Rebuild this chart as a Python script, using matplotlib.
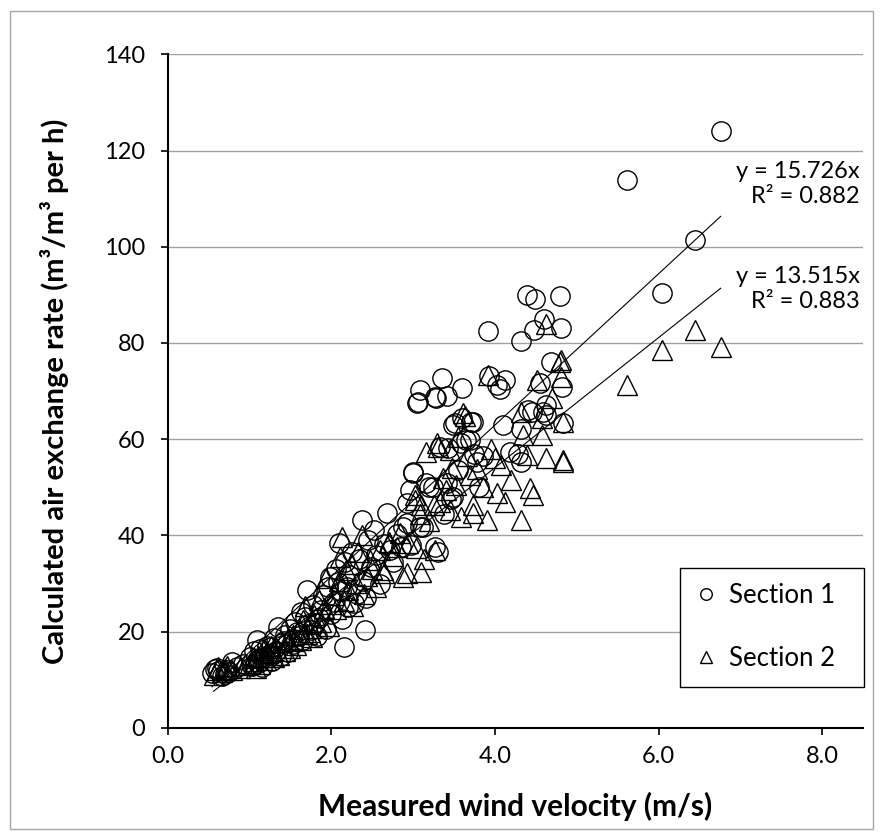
#!/usr/bin/env python3
import numpy as np
import matplotlib
matplotlib.use("Agg")
import matplotlib.pyplot as plt
from matplotlib.patches import Rectangle

###############################################################################
# Data
###############################################################################

# Section 1 (circles): measured wind velocity (m/s), air exchange rate
s1_wind = [
    0.54, 0.60, 0.66, 0.72, 0.78, 0.62, 0.70, 0.85, 0.92, 0.58, 0.75,
    1.00, 1.03, 1.06, 1.09, 1.10, 1.13, 1.15, 1.18, 1.21, 1.24, 1.27, 1.30,
    1.33, 1.35, 1.38, 1.40, 1.44, 1.47, 1.50, 1.12, 1.26, 1.42,
    1.53, 1.56, 1.60, 1.63, 1.66, 1.70, 1.72, 1.75, 1.78, 1.82, 1.85, 1.88,
    1.90, 1.93, 1.96, 1.98, 2.00, 1.58, 1.68, 1.80,
    2.03, 2.06, 2.10, 2.12, 2.13, 2.15, 2.17, 2.19, 2.22, 2.25, 2.28, 2.31,
    2.34, 2.37, 2.39, 2.41, 2.43, 2.45, 2.48, 2.08, 2.20,
    2.52, 2.55, 2.60, 2.65, 2.68, 2.72, 2.76, 2.80, 2.85, 2.88, 2.92, 2.92,
    2.96, 2.98,
    3.00, 3.00, 3.05, 3.06, 3.08, 3.08, 3.12, 3.16, 3.20, 3.24, 3.27, 3.27,
    3.28, 3.30, 3.33, 3.35, 3.38, 3.41, 3.42, 3.43, 3.46, 3.49, 3.49,
    3.51, 3.55, 3.59, 3.60, 3.60, 3.65, 3.69, 3.71, 3.73, 3.75, 3.78, 3.80,
    3.85, 3.92, 3.93,
    4.02, 4.06, 4.10, 4.12, 4.18, 4.28, 4.32, 4.32, 4.32, 4.39, 4.45, 4.48,
    4.49, 4.55, 4.59, 4.60, 4.63, 4.69, 4.79, 4.81, 4.82, 4.83, 4.62, 4.40,
    5.62, 6.04, 6.45, 6.76,
]
s1_rate = [
    11.3, 12.5, 10.8, 12.0, 13.6, 11.8, 11.2, 12.6, 13.2, 12.2, 11.6,
    14.8, 12.9, 15.9, 18.2, 13.5, 16.4, 12.6, 14.8, 17.0, 15.2, 13.8, 18.6,
    16.0, 21.0, 14.9, 17.6, 19.2, 15.7, 20.5, 14.2, 16.8, 18.0,
    17.3, 22.0, 19.0, 24.0, 18.2, 28.6, 21.5, 20.3, 25.6, 19.1, 22.8, 24.5,
    27.5, 20.6, 29.2, 31.4, 23.6, 20.0, 23.0, 21.8,
    26.2, 33.0, 38.3, 28.4, 22.7, 16.8, 34.5, 29.3, 31.8, 36.6, 26.0, 27.9,
    35.0, 43.2, 30.4, 20.3, 26.9, 39.0, 33.4, 30.2, 25.0,
    41.1, 36.0, 29.8, 38.2, 44.6, 36.9, 34.4, 40.2, 37.5, 41.8, 42.5, 46.7,
    49.4, 38.0,
    52.9, 53.2, 67.6, 67.8, 70.2, 41.8, 41.8, 50.8, 50.1, 50.1, 37.6, 68.8,
    68.5, 36.5, 58.4, 72.8, 44.5, 50.8, 69.0, 58.1, 47.5, 48.0, 62.9,
    63.3, 53.5, 59.1, 64.3, 70.7, 59.8, 59.8, 63.6, 63.6, 57.0, 55.3, 50.0,
    56.5, 82.5, 73.1,
    71.3, 70.5, 62.9, 72.3, 57.4, 57.0, 55.3, 62.2, 80.3, 90.0, 65.7, 82.7,
    89.1, 71.6, 65.7, 84.9, 67.1, 76.1, 89.8, 83.0, 70.8, 63.3, 65.0, 66.0,
    113.9, 90.4, 101.4, 124.0,
]

# Section 2 (triangles)
s2_wind = [
    0.56, 0.62, 0.66, 0.72, 0.78, 0.88, 0.95, 0.60, 0.70,
    1.00, 1.04, 1.08, 1.10, 1.13, 1.16, 1.20, 1.23, 1.26, 1.30, 1.33, 1.36,
    1.40, 1.43, 1.47, 1.50, 1.06, 1.18, 1.28,
    1.53, 1.57, 1.60, 1.63, 1.66, 1.68, 1.70, 1.73, 1.76, 1.79, 1.82, 1.85,
    1.88, 1.91, 1.94, 1.97, 2.00, 1.55, 1.74,
    2.03, 2.06, 2.09, 2.11, 2.13, 2.15, 2.18, 2.21, 2.24, 2.27, 2.30, 2.33,
    2.37, 2.40, 2.44, 2.47,
    2.50, 2.55, 2.60, 2.63, 2.65, 2.70, 2.70, 2.75, 2.80, 2.84, 2.88, 2.92,
    2.94,
    3.02, 3.02, 3.04, 3.08, 3.10, 3.10, 3.13, 3.16, 3.20, 3.25, 3.27, 3.29,
    3.31, 3.33, 3.36, 3.40, 3.45, 3.45, 3.48,
    3.52, 3.55, 3.59, 3.61, 3.63, 3.66, 3.70, 3.73, 3.73, 3.78, 3.85, 3.90,
    3.91, 3.95,
    4.00, 4.02, 4.08, 4.12, 4.20, 4.32, 4.32, 4.34, 4.39, 4.43, 4.47, 4.51,
    4.57, 4.57, 4.63, 4.63, 4.70, 4.80, 4.81, 4.81, 4.83, 4.83, 4.83,
    5.62, 6.04, 6.45, 6.76,
]
s2_rate = [
    11.0, 12.6, 11.6, 12.8, 12.0, 12.4, 13.0, 11.9, 12.2,
    13.4, 14.5, 12.5, 15.0, 13.2, 16.2, 14.0, 15.5, 17.0, 14.6, 16.5, 15.1,
    17.8, 16.0, 18.4, 16.6, 13.8, 14.8, 15.8,
    19.2, 17.2, 20.5, 18.3, 22.3, 25.2, 19.5, 21.6, 18.8, 23.5, 20.8, 26.5,
    22.0, 24.8, 31.1, 21.2, 25.8, 18.0, 20.0,
    27.5, 24.6, 30.5, 35.5, 39.7, 26.3, 32.8, 28.7, 34.0, 25.4, 30.0, 36.5,
    40.1, 27.8, 31.6, 34.8,
    33.0, 29.3, 37.0, 32.8, 32.1, 38.3, 38.7, 35.6, 37.6, 40.5, 31.4, 32.1,
    38.3,
    48.4, 47.3, 37.3, 44.5, 32.4, 46.3, 35.0, 57.4, 43.0, 46.3, 36.9, 59.1,
    58.4, 47.0, 52.0, 49.5, 45.3, 57.7, 54.0,
    50.5, 60.5, 43.9, 65.4, 64.8, 56.5, 52.5, 46.3, 44.6, 53.8, 50.0, 43.2,
    73.4, 58.0,
    56.0, 48.7, 54.6, 47.0, 51.5, 43.2, 65.7, 60.9, 56.7, 49.8, 48.4, 72.3,
    64.3, 60.9, 83.9, 56.0, 68.5, 76.1, 73.0, 76.4, 63.6, 55.3, 55.7,
    71.2, 78.5, 82.7, 79.2,
]

# Linear trendlines through the origin, as printed on the chart
s1_slope, s1_r2 = 15.726, 0.882
s2_slope, s2_r2 = 13.515, 0.883

x_ticks = [0, 2, 4, 6, 8]
y_ticks = [0, 20, 40, 60, 80, 100, 120, 140]

###############################################################################
# Style
###############################################################################

FONT = ["Lato", "DejaVu Sans"]
plt.rcParams["font.family"] = FONT

W, H = 883, 839
DPI = 100


def fx(px):
    return px / W


def fy(py):
    return 1 - py / H


def main():
    fig = plt.figure(figsize=(W / DPI, H / DPI), dpi=DPI)
    ax = fig.add_axes([fx(167.7), fy(727.7), fx(863) - fx(167.7), fy(54.3) - fy(727.7)])

    # grey chart-area border
    fig.patches.append(Rectangle((fx(10), fy(829)), fx(873) - fx(10), fy(11) - fy(829),
                                 transform=fig.transFigure, fill=False,
                                 edgecolor="#A6A6A6", linewidth=1.0))

    mk = 13.9
    ax.plot(s1_wind, s1_rate, linestyle="none", marker="o", ms=mk,
            mfc="none", mec="black", mew=1.0, label="Section 1", zorder=3)
    ax.plot(s2_wind, s2_rate, linestyle="none", marker="^", ms=mk,
            mfc="none", mec="black", mew=1.0, label="Section 2", zorder=3)

    # trendlines over the data range
    for xs, k in [(s1_wind, s1_slope), (s2_wind, s2_slope)]:
        xx = np.array([min(xs), max(xs)])
        ax.plot(xx, k * xx, color="black", lw=0.8, zorder=4)

    ax.text(8.46, 113.0, f"y = {s1_slope:.3f}x\nR² = {s1_r2:.3f}", ha="right",
            va="center", multialignment="right", fontsize=17, linespacing=1.25)
    ax.text(8.46, 91.2, f"y = {s2_slope:.3f}x\nR² = {s2_r2:.3f}", ha="right",
            va="center", multialignment="right", fontsize=17, linespacing=1.25)

    ax.set_xlim(0, 8.5)
    ax.set_ylim(0, 140)
    ax.set_xticks(x_ticks)
    ax.set_xticklabels([f"{v:.1f}" for v in x_ticks])
    ax.set_yticks(y_ticks)
    ax.tick_params(axis="both", direction="out", length=5, width=1.2,
                   labelsize=17, colors="black")
    ax.tick_params(axis="x", pad=8)
    ax.tick_params(axis="y", pad=11)

    ax.grid(True, axis="y", color="#A0A0A0", lw=1.0)
    ax.set_axisbelow(True)
    for s in ["top", "right"]:
        ax.spines[s].set_visible(False)
    for s in ["left", "bottom"]:
        ax.spines[s].set_linewidth(1.5)
        ax.spines[s].set_zorder(5)

    ax.set_xlabel("Measured wind velocity (m/s)", fontsize=21.5, fontweight="bold")
    ax.set_ylabel("Calculated air exchange rate (m³/m³ per h)", fontsize=21,
                  fontweight="bold")
    ax.xaxis.set_label_coords(0.5, (727.7 - 806) / 673.4)
    ax.xaxis.label.set_va("center")
    ax.yaxis.set_label_coords((55 - 167.7) / 695.3, 0.5)
    ax.yaxis.label.set_va("center")

    leg = ax.legend(loc="upper left", bbox_to_anchor=(fx(680), fy(567.7), fx(864) - fx(680), 0),
                    bbox_transform=fig.transFigure, mode="expand", borderaxespad=0,
                    fontsize=18.5, markerscale=0.6, handlelength=0.8,
                    handletextpad=0.5, borderpad=0.6, labelspacing=1.48,
                    fancybox=False, edgecolor="black", framealpha=1)
    leg.get_frame().set_linewidth(1.0)

    fig.savefig("out.png", dpi=DPI)
    plt.close(fig)


if __name__ == "__main__":
    main()
